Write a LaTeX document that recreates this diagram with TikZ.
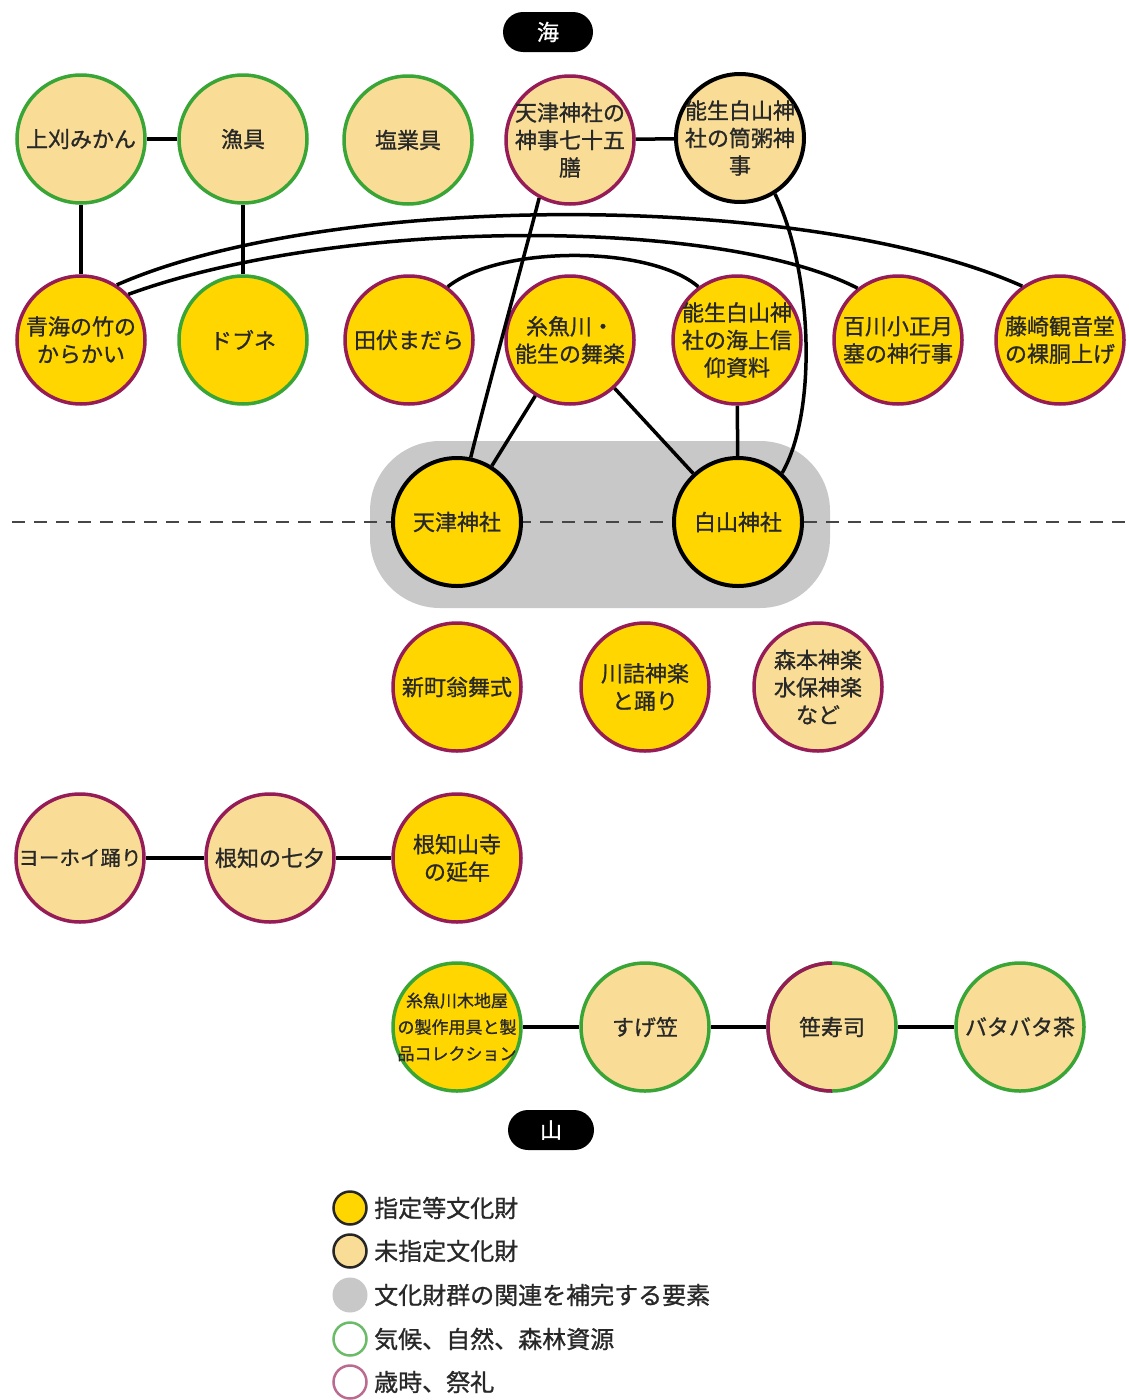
\documentclass[tikz,border=0pt]{standalone}
\usepackage{fontspec}
\setmainfont{Noto Sans CJK JP}[FakeBold=1]

\definecolor{fillyel}{RGB}{255,214,0}
\definecolor{filltan}{RGB}{249,221,150}
\definecolor{edgegrn}{RGB}{58,165,55}
\definecolor{edgemag}{RGB}{150,28,88}
\definecolor{bandgray}{RGB}{200,200,200}
\definecolor{inkcol}{RGB}{40,40,40}
\definecolor{divcol}{RGB}{70,70,70}

\tikzset{
  hdisc/.style={circle, minimum size=128pt, inner sep=0pt, line width=3.5pt},
  hdesig/.style={hdisc, fill=fillyel},
  hundesig/.style={hdisc, fill=filltan},
  hnature/.style={draw=edgegrn},
  hrite/.style={draw=edgemag},
  hcore/.style={draw=black, line width=4pt},
  itemtext/.style={inner sep=0pt, align=center, text=inkcol,
    font=\fontsize{22}{27.5}\selectfont},
  link/.style={line width=3.5pt, black},
  pill/.style={fill=black, text=white, rounded corners=20pt,
    minimum width=90pt, minimum height=40pt, inner sep=0pt,
    font=\fontsize{22}{22}\selectfont},
  legdot/.style={circle, minimum size=33pt, inner sep=0pt, line width=2.5pt},
  legtext/.style={anchor=west, inner sep=0pt, text=inkcol,
    font=\fontsize{24}{24}\selectfont},
}

% [text options]{fill style}{edge style}{name}{position}{text}
\newcommand\heritage[6][]{%
  \node[#2,#3] (#4) at (#5) {};
  \node[itemtext,#1] (#4-t) at (#4) {#6};}

\begin{document}
\begin{tikzpicture}[x=1pt,y=-1pt]
\useasboundingbox (0,0) rectangle (1128,1400);
\fill[white] (0,0) rectangle (1128,1400);

% band joining the two shrines
\fill[bandgray, rounded corners=70pt] (370,441) rectangle (830,608);
% sea / mountain divider
\draw[divcol, line width=2.5pt, dash pattern=on 13pt off 9pt] (12,522) -- (1128,522);

% sea and mountain tags
\node[pill] (sea) at (548,32) {海};
\node[pill, minimum width=86pt] (mountain) at (551,1130) {山};

% row 1
\heritage{hundesig}{hnature}{kamikari}{81,139}{上刈みかん}
\heritage{hundesig}{hnature}{gyogu}{243,139}{漁具}
\heritage{hundesig}{hnature}{engyo}{408,140}{塩業具}
\heritage{hundesig}{hrite}{shinji}{570,140}{天津神社の\\神事七十五\\膳}
\heritage{hundesig}{hcore}{tsutsugayu}{740,138}{能生白山神\\社の筒粥神\\事}

% row 2
\heritage{hdesig}{hrite}{aomi}{81,340}{青海の竹の\\からかい}
\heritage{hdesig}{hnature}{dobune}{243,340}{ドブネ}
\heritage{hdesig}{hrite}{tabuse}{409,340}{田伏まだら}
\heritage{hdesig}{hrite}{bugaku}{570,340}{糸魚川・\\能生の舞楽}
\heritage{hdesig}{hrite}{kaijo}{737,340}{能生白山神\\社の海上信\\仰資料}
\heritage{hdesig}{hrite}{momokawa}{898,340}{百川小正月\\塞の神行事}
\heritage{hdesig}{hrite}{fujisaki}{1060,340}{藤崎観音堂\\の裸胴上げ}

% shrines
\heritage{hdesig}{hcore}{amatsu}{457,522}{天津神社}
\heritage{hdesig}{hcore}{hakusan}{738,522}{白山神社}

% row 4
\heritage{hdesig}{hrite}{shinmachi}{457,687}{新町翁舞式}
\heritage{hdesig}{hrite}{kawazume}{645,687}{川詰神楽\\と踊り}
\heritage{hundesig}{hrite}{morimoto}{818,687}{森本神楽\\水保神楽\\など}

% row 5
\heritage[font=\fontsize{20.5}{25}\selectfont]{hundesig}{hrite}{yohoi}{80,858}{ヨーホイ踊り}
\heritage{hundesig}{hrite}{tanabata}{270,858}{根知の七夕}
\heritage{hdesig}{hrite}{ennen}{457,858}{根知山寺\\の延年}

% row 6
\heritage[font=\fontsize{17}{26.5}\selectfont]{hdesig}{hnature}{kijiya}{457,1027}{糸魚川木地屋\\の製作用具と製\\品コレクション}
\heritage{hundesig}{hnature}{sugegasa}{645,1027}{すげ笠}
\heritage{hundesig}{hnature}{sasa}{832,1027}{笹寿司}
\heritage{hundesig}{hnature}{batabata}{1020,1027}{バタバタ茶}
% left half of the sasa-zushi ring belongs to festivals
\begin{scope}
  \clip ([shift={(-80pt,80pt)}]sasa.center) rectangle ([yshift=-80pt]sasa.center);
  \draw[edgemag, line width=3.5pt] (sasa.center) circle[radius=64pt];
\end{scope}

% connectors
\draw[link] (kamikari) -- (gyogu);
\draw[link] (kamikari) -- (aomi);
\draw[link] (gyogu) -- (dobune);
\draw[link] (shinji) -- (tsutsugayu);
\draw[link] (aomi.57) .. controls (330,191) and (810,191) .. (fujisaki.125);
\draw[link] (aomi.44) .. controls (340,217) and (720,217) .. (momokawa.128);
\draw[link] (tabuse.54) .. controls (500,245) and (650,245) .. (kaijo.126);
\draw[link] (shinji.242) .. controls (522,265) and (490,380) .. (amatsu.78);
\draw[link] (tsutsugayu.-58) .. controls (812,270) and (818,410) .. (hakusan.48);
\draw[link] (bugaku) -- (amatsu);
\draw[link] (bugaku) -- (hakusan);
\draw[link] (kaijo) -- (hakusan);
\draw[link] (yohoi) -- (tanabata);
\draw[link] (tanabata) -- (ennen);
\draw[link] (kijiya) -- (sugegasa);
\draw[link] (sugegasa) -- (sasa);
\draw[link] (sasa) -- (batabata);

% legend
\node[legdot, fill=fillyel, draw=black!85] (legA) at (350,1208) {};
\node[legtext] (legA-t) at (374,1208) {指定等文化財};
\node[legdot, fill=filltan, draw=black!85] (legB) at (350,1251) {};
\node[legtext] (legB-t) at (374,1251) {未指定文化財};
\node[legdot, fill=bandgray, minimum size=35pt] (legC) at (350,1295) {};
\node[legtext] (legC-t) at (374,1295) {文化財群の関連を補完する要素};
\node[legdot, fill=white, draw=edgegrn!75] (legD) at (350,1339) {};
\node[legtext] (legD-t) at (374,1339) {気候、自然、森林資源};
\node[legdot, fill=white, draw=edgemag!65] (legE) at (350,1382) {};
\node[legtext] (legE-t) at (374,1382) {歳時、祭礼};
\end{tikzpicture}
\end{document}
